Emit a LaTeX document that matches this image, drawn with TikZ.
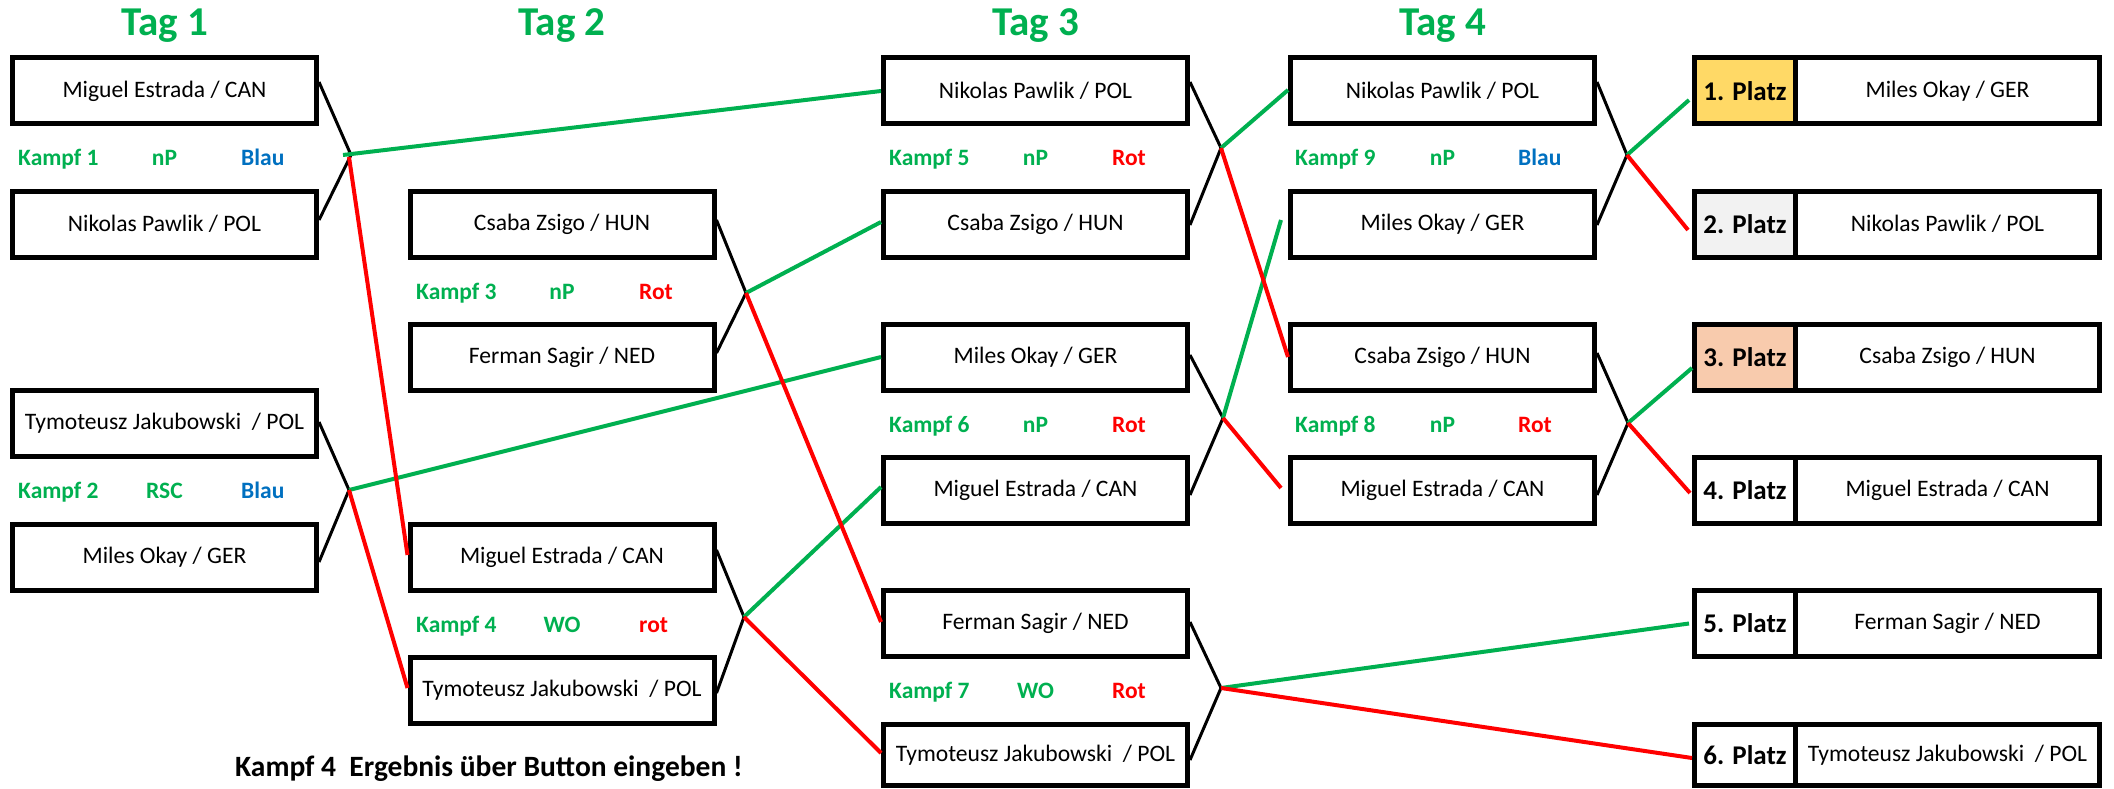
\documentclass[tikz,border=0pt]{standalone}
\usepackage{fontspec}
\setmainfont{Carlito}
\usetikzlibrary{calc}
\definecolor{xlgreen}{RGB}{0,176,80}
\definecolor{xlblue}{RGB}{0,112,192}
\definecolor{xlred}{RGB}{255,0,0}
\definecolor{goldfill}{RGB}{255,217,102}
\definecolor{silverfill}{RGB}{242,242,242}
\definecolor{bronzefill}{RGB}{248,203,173}
\newcommand\kampfrow[8]{%
  \node[kampflabel,anchor=base west,text=xlgreen] (#1l) at (#2+8,#4) {#5};
  \node[kampflabel,anchor=base,text=xlgreen] (#1m) at (#3,#4) {#6};
  \node[kampflabel,anchor=base west,text=#7] (#1r) at (#2+231,#4) {#8};
}
\begin{document}
\begin{tikzpicture}[x=1pt,y=-1pt,
  fighter/.style={draw,line width=5pt,minimum width=304pt,minimum height=66pt,inner sep=0pt,
    font=\fontsize{23.6}{28}\selectfont},
  lastrow/.style={minimum height=61pt},
  platz/.style={draw,line width=5pt,minimum width=101pt,minimum height=66pt,inner sep=0pt,
    font=\bfseries\fontsize{27}{32}\selectfont},
  title/.style={font=\bfseries\fontsize{41}{48}\selectfont,text=xlgreen,inner sep=0pt,anchor=base},
  kampflabel/.style={font=\bfseries\fontsize{23.5}{28}\selectfont,inner sep=0pt},
  blk/.style={draw=black,line width=3pt},
  win/.style={draw=xlgreen,line width=4pt},
  lose/.style={draw=xlred,line width=4pt},
]
\useasboundingbox (0,0) rectangle (2114,789);

% titles
\node[title] (tag1) at (164.5,36) {Tag 1};
\node[title] (tag2) at (562,36) {Tag 2};
\node[title] (tag3) at (1035.5,36) {Tag 3};
\node[title] (tag4) at (1442.5,36) {Tag 4};

% Tag 1
\node[fighter] (t1a) at (164.5,91) {Miguel Estrada / CAN};
\node[fighter] (t1b) at (164.5,224) {Nikolas Pawlik / POL};
\node[fighter] (t1c) at (164.5,423.5) {Tymoteusz Jakubowski \ / POL};
\node[fighter] (t1d) at (164.5,557) {Miles Okay / GER};
% Tag 2
\node[fighter] (t2a) at (562,224) {Csaba Zsigo / HUN};
\node[fighter] (t2b) at (562,357) {Ferman Sagir / NED};
\node[fighter] (t2c) at (562,557) {Miguel Estrada / CAN};
\node[fighter] (t2d) at (562,690) {Tymoteusz Jakubowski \ / POL};
% Tag 3
\node[fighter] (t3a) at (1035.5,91) {Nikolas Pawlik / POL};
\node[fighter] (t3b) at (1035.5,224) {Csaba Zsigo / HUN};
\node[fighter] (t3c) at (1035.5,357) {Miles Okay / GER};
\node[fighter] (t3d) at (1035.5,490.5) {Miguel Estrada / CAN};
\node[fighter] (t3e) at (1035.5,623.5) {Ferman Sagir / NED};
\node[fighter,lastrow] (t3f) at (1035.5,755) {Tymoteusz Jakubowski \ / POL};
% Tag 4
\node[fighter] (t4a) at (1442.5,91) {Nikolas Pawlik / POL};
\node[fighter] (t4b) at (1442.5,224) {Miles Okay / GER};
\node[fighter] (t4c) at (1442.5,357) {Csaba Zsigo / HUN};
\node[fighter] (t4d) at (1442.5,490.5) {Miguel Estrada / CAN};

% Platzierungen
\node[platz,fill=goldfill] (p1) at (1745,91) {1. Platz};
\node[fighter] (n1) at (1947.5,91) {Miles Okay / GER};
\node[platz,fill=silverfill] (p2) at (1745,224) {2. Platz};
\node[fighter] (n2) at (1947.5,224) {Nikolas Pawlik / POL};
\node[platz,fill=bronzefill] (p3) at (1745,357) {3. Platz};
\node[fighter] (n3) at (1947.5,357) {Csaba Zsigo / HUN};
\node[platz] (p4) at (1745,490.5) {4. Platz};
\node[fighter] (n4) at (1947.5,490.5) {Miguel Estrada / CAN};
\node[platz] (p5) at (1745,623.5) {5. Platz};
\node[fighter] (n5) at (1947.5,623.5) {Ferman Sagir / NED};
\node[platz,lastrow] (p6) at (1745,755) {6. Platz};
\node[fighter,lastrow] (n6) at (1947.5,755) {Tymoteusz Jakubowski \ / POL};

% Kampf rows
\kampfrow{k1}{10}{164.5}{165}{Kampf 1}{nP}{xlblue}{Blau}
\kampfrow{k2}{10}{164.5}{498}{Kampf 2}{RSC}{xlblue}{Blau}
\kampfrow{k3}{408}{562}{299}{Kampf 3}{nP}{xlred}{Rot}
\kampfrow{k4}{408}{562}{632}{Kampf 4}{WO}{xlred}{rot}
\kampfrow{k5}{881}{1035.5}{165}{Kampf 5}{nP}{xlred}{Rot}
\kampfrow{k6}{881}{1035.5}{432}{Kampf 6}{nP}{xlred}{Rot}
\kampfrow{k7}{881}{1035.5}{698}{Kampf 7}{WO}{xlred}{Rot}
\kampfrow{k9}{1287}{1442.5}{165}{Kampf 9}{nP}{xlblue}{Blau}
\kampfrow{k8}{1287}{1442.5}{432}{Kampf 8}{nP}{xlred}{Rot}

% meeting points
\coordinate (m1) at (351,155);
\coordinate (m2) at (349,490);
\coordinate (m3) at (746,293);
\coordinate (m4) at (744,617);
\coordinate (m5) at (1221,148);
\coordinate (m6) at (1223,418);
\coordinate (m7) at (1221,688);
\coordinate (m9) at (1627,155);
\coordinate (m8) at (1628,423);

% black feeders
\draw[blk] ($(t1a.east)+(0,-9)$) -- (m1);
\draw[blk] ($(t1b.east)+(0,-4)$) -- (m1);
\draw[blk] ($(t1c.east)+(0,-1.5)$) -- (m2);
\draw[blk] ($(t1d.east)+(0,5)$) -- (m2);
\draw[blk] ($(t2a.east)+(0,-4)$) -- (m3);
\draw[blk] ($(t2b.east)+(0,-4)$) -- (m3);
\draw[blk] ($(t2c.east)+(0,-7)$) -- (m4);
\draw[blk] ($(t2d.east)+(0,3)$) -- (m4);
\draw[blk] ($(t3a.east)+(0,-9)$) -- (m5);
\draw[blk] ($(t3b.east)+(0,1)$) -- (m5);
\draw[blk] ($(t3c.east)+(0,-2)$) -- (m6);
\draw[blk] ($(t3d.east)+(0,4.5)$) -- (m6);
\draw[blk] ($(t3e.east)+(0,-1.5)$) -- (m7);
\draw[blk] ($(t3f.east)+(0,5)$) -- (m7);
\draw[blk] ($(t4a.east)+(0,-9)$) -- (m9);
\draw[blk] ($(t4b.east)+(0,1)$) -- (m9);
\draw[blk] ($(t4c.east)+(0,-4)$) -- (m8);
\draw[blk] ($(t4d.east)+(0,4.5)$) -- (m8);

% winners (green)
\draw[win] ($(m1)+(-8,0)$) -- (t3a.west);
\draw[win] (m2) -- (t3c.west);
\draw[win] (m3) -- ($(t3b.west)+(0,-2)$);
\draw[win] (m4) -- ($(t3d.west)+(0,-3.5)$);
\draw[win] (m5) -- ($(t4a.west)+(0,-1)$);
\draw[win] (m6) -- ($(t4b.west)+(-7,-4)$);
\draw[win] (m7) -- ($(p5.west)+(-3,0)$);
\draw[win] (m9) -- ($(p1.west)+(-3,9)$);
\draw[win] (m8) -- ($(p3.west)+(0,11)$);

% losers (red)
\draw[lose] ($(m1)+(-2,2)$) -- ($(t2c.west)+(0,-2)$);
\draw[lose] (m2) -- ($(t2d.west)+(0,-2)$);
\draw[lose] (m3) -- ($(t3e.west)+(0,-1.5)$);
\draw[lose] (m4) -- ($(t3f.west)+(0,-2)$);
\draw[lose] (m5) -- (t4c.west);
\draw[lose] (m6) -- ($(t4d.west)+(-7,-2.5)$);
\draw[lose] (m7) -- ($(p6.west)+(0,3)$);
\draw[lose] (m9) -- ($(p2.west)+(-4,6)$);
\draw[lose] (m8) -- ($(p4.west)+(-2,2.5)$);

% note
\node[font=\bfseries\fontsize{29.5}{34}\selectfont,inner sep=0pt,anchor=base west] (note) at (235,776)
  {Kampf 4\ \ Ergebnis über Button eingeben !};
\end{tikzpicture}
\end{document}
